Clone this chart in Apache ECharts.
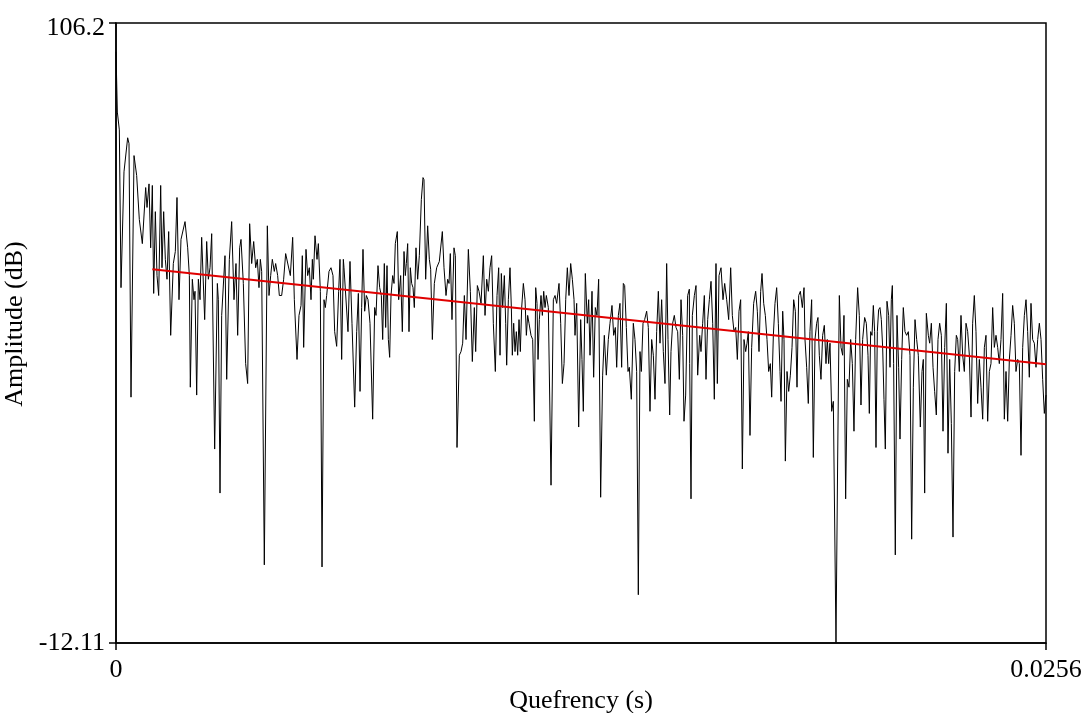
<!DOCTYPE html>
<html>
<head>
<meta charset="utf-8">
<script src="https://cdn.jsdelivr.net/npm/echarts@6/dist/echarts.min.js"></script>
<style>html,body{margin:0;padding:0;background:#fff}#c{width:1086px;height:713px}</style>
</head>
<body>
<div id="c"></div>
<script>
// Quefrency (ms) / amplitude (dB) pairs, in segments
const seg1 = [[0.0,100.7],[0.037,89.2],[0.092,85.8],[0.138,55.7],[0.220,77.8],[0.321,84.3],[0.358,83.2],[0.413,34.8],[0.496,80.9],[0.569,77.1],[0.642,68.7],[0.725,64.1],[0.817,74.8],[0.854,71.0],[0.909,75.5],[0.954,63.3],[1.000,75.2],[1.037,54.6],[1.083,70.2],[1.129,58.0],[1.175,54.2],[1.230,75.2],[1.266,59.5],[1.312,70.2],[1.358,61.1],[1.404,57.3],[1.450,66.4],[1.505,46.6],[1.578,60.3],[1.633,62.6],[1.679,72.9],[1.734,53.4],[1.789,64.9],[1.900,68.3],[1.973,63.3],[2.019,58.0],[2.046,36.7],[2.101,57.3],[2.147,53.4],[2.175,55.0],[2.221,35.2],[2.267,57.3],[2.313,53.4],[2.358,65.3],[2.441,49.6],[2.496,64.5],[2.542,57.3],[2.588,59.5],[2.634,66.0],[2.716,24.9],[2.790,56.5],[2.817,53.4],[2.863,16.5],[2.909,50.4],[2.955,50.4],[3.000,61.8],[3.047,38.2],[3.120,61.1]];
const seg2 = [[3.184,68.3],[3.248,53.4],[3.303,60.3],[3.349,46.6],[3.404,63.3],[3.441,64.9],[3.505,56.5],[3.569,41.2],[3.624,37.4],[3.679,67.9],[3.735,60.3],[3.790,64.5],[3.845,59.5],[3.890,61.1],[3.936,55.7],[3.973,61.1],[4.010,58.8],[4.083,2.8],[4.166,67.5],[4.212,54.2],[4.258,58.0],[4.303,61.1],[4.358,58.8],[4.395,60.3],[4.450,58.0],[4.496,54.2],[4.560,54.2],[4.615,57.3],[4.670,62.2],[4.725,62.2],[4.799,58.0],[4.863,65.3],[4.909,53.4],[4.983,42.0],[5.037,50.4],[5.093,52.3],[5.129,61.8],[5.166,44.3],[5.230,63.0],[5.276,58.0],[5.322,59.5],[5.368,53.4],[5.405,61.1],[5.432,57.3],[5.478,65.6],[5.533,61.1],[5.570,64.1],[5.625,55.0],[5.671,2.4],[5.726,53.4],[5.762,51.9],[5.799,54.2],[5.863,58.8],[5.918,59.5],[5.973,58.0],[6.019,47.3],[6.074,44.5],[6.129,55.0],[6.166,61.1],[6.212,42.0],[6.258,61.1]];
const seg3 = [[6.276,59.5],[6.331,59.2],[6.386,47.3],[6.441,60.7],[6.496,48.9],[6.570,32.9],[6.625,47.3],[6.671,54.6],[6.717,35.9],[6.762,51.9],[6.799,63.0],[6.845,51.2],[6.891,54.2],[6.937,53.4],[6.992,48.9],[7.065,30.6],[7.120,51.9],[7.157,50.4],[7.212,59.9],[7.258,55.7],[7.304,54.2],[7.341,45.8],[7.386,60.3],[7.423,48.1],[7.460,59.9],[7.497,45.8],[7.533,42.4],[7.570,54.2],[7.616,58.0],[7.653,56.5],[7.689,64.1],[7.744,66.4],[7.781,53.4],[7.836,58.0],[7.882,47.3],[7.928,62.6],[7.964,58.0],[7.992,60.3],[8.029,64.1],[8.065,47.3],[8.102,59.5],[8.139,56.5],[8.176,55.7],[8.212,51.9],[8.258,63.3],[8.304,57.3],[8.350,61.8],[8.405,72.5],[8.451,76.7],[8.478,76.3],[8.524,57.3],[8.579,67.5],[8.625,61.1],[8.662,59.2],[8.708,45.8],[8.763,56.5],[8.827,59.5],[8.900,60.7],[8.983,66.4],[9.029,59.5],[9.084,54.2],[9.130,57.3],[9.167,56.5],[9.203,62.2],[9.249,49.6],[9.304,63.3],[9.341,61.8],[9.387,25.2],[9.451,42.8]];
const seg4 = [[9.497,43.5],[9.543,45.1],[9.589,54.2],[9.635,45.8],[9.699,63.0],[9.754,55.0],[9.809,41.6],[9.864,51.9],[9.901,43.5],[9.947,56.1],[9.993,55.0],[10.048,52.7],[10.112,61.8],[10.158,50.4],[10.204,57.3],[10.250,55.0],[10.295,59.5],[10.341,61.8],[10.387,48.9],[10.442,39.7],[10.488,54.2],[10.534,59.5],[10.571,42.8],[10.607,58.4],[10.644,51.9],[10.690,58.0],[10.727,48.9],[10.754,40.9],[10.800,53.4],[10.846,59.5],[10.883,51.9],[10.910,42.8],[10.947,48.9],[10.984,43.5],[11.020,47.3],[11.057,42.8],[11.094,49.6],[11.130,43.5],[11.167,51.9],[11.213,56.5],[11.259,53.4],[11.296,46.6],[11.332,50.4],[11.369,48.9],[11.424,46.6],[11.470,45.8],[11.516,30.2],[11.553,55.7],[11.589,52.7],[11.617,42.0],[11.653,49.6],[11.699,54.2],[11.736,50.4],[11.773,55.0],[11.810,51.9],[11.846,54.2],[11.901,51.9],[11.975,18.0],[12.039,53.4],[12.085,54.2],[12.131,52.7],[12.195,56.5],[12.241,48.9],[12.287,37.4],[12.333,41.2],[12.379,53.4],[12.424,59.5],[12.470,54.2],[12.516,60.3],[12.562,57.3],[12.608,53.4]];
const seg5 = [[12.635,46.6],[12.681,52.7],[12.736,29.1],[12.791,49.6],[12.827,42.0],[12.864,32.1],[12.919,58.4],[12.974,48.9],[13.011,53.4],[13.048,42.8],[13.103,55.0],[13.148,38.6],[13.194,51.9],[13.240,50.4],[13.286,57.3],[13.341,15.7],[13.396,39.0],[13.442,46.6],[13.497,39.0],[13.552,45.8],[13.598,48.9],[13.653,52.3],[13.699,46.6],[13.745,48.1],[13.782,40.5],[13.828,50.4],[13.873,52.7],[13.919,40.5],[13.965,56.5],[14.002,56.1],[14.048,48.1],[14.094,39.7],[14.130,40.5],[14.185,34.4],[14.240,48.9],[14.286,45.8],[14.332,39.7],[14.378,-2.9],[14.424,43.5],[14.461,39.7],[14.507,48.9],[14.552,49.6],[14.607,51.2],[14.653,48.1],[14.699,32.1],[14.745,45.8],[14.791,42.8],[14.837,34.4],[14.883,47.3],[14.929,55.0],[14.975,45.1],[15.020,53.4],[15.066,43.5],[15.112,37.4],[15.158,60.3],[15.195,45.8],[15.241,31.4],[15.277,43.5],[15.323,48.9],[15.369,50.4],[15.415,48.1],[15.461,47.3],[15.507,38.2],[15.553,53.4],[15.599,46.6],[15.635,30.2],[15.681,35.2],[15.736,54.2],[15.782,55.4]];
const seg6 = [[15.791,41.2],[15.828,15.4],[15.865,50.4],[15.920,54.2],[15.966,56.1],[16.012,39.0],[16.067,46.6],[16.103,43.5],[16.149,48.9],[16.195,54.2],[16.241,38.2],[16.287,49.6],[16.333,53.4],[16.379,56.9],[16.425,48.9],[16.470,34.4],[16.516,60.3],[16.553,37.4],[16.599,58.0],[16.654,59.5],[16.709,53.4],[16.755,56.5],[16.810,53.4],[16.865,49.6],[16.920,59.5],[16.966,50.4],[17.012,47.3],[17.058,48.1],[17.104,42.0],[17.149,51.2],[17.195,53.4],[17.241,21.1],[17.287,45.8],[17.333,43.5],[17.370,45.1],[17.406,47.3],[17.452,27.5],[17.498,44.3],[17.553,52.7],[17.608,55.0],[17.654,51.2],[17.700,43.5],[17.746,55.0],[17.783,58.4],[17.829,52.7],[17.874,50.4],[17.920,45.8],[17.966,39.7],[18.012,41.2],[18.049,34.8],[18.095,46.6],[18.140,52.7],[18.186,55.7],[18.232,48.9],[18.278,39.7],[18.306,34.0],[18.352,51.2],[18.388,45.8],[18.425,22.6],[18.471,39.7],[18.517,35.9],[18.563,39.0],[18.609,44.3],[18.654,53.4],[18.700,51.2],[18.746,36.7],[18.792,54.2],[18.838,55.0],[18.893,51.9],[18.939,55.7]];
const seg7 = [[18.966,45.8],[19.012,40.5],[19.057,33.6],[19.103,47.3],[19.149,53.4],[19.195,23.3],[19.241,45.8],[19.287,48.9],[19.323,50.0],[19.360,42.8],[19.406,38.2],[19.452,46.6],[19.498,48.5],[19.544,41.2],[19.580,45.8],[19.617,41.2],[19.654,45.1],[19.700,32.1],[19.746,34.0],[19.782,34.0],[19.819,-12.0],[19.865,23.0],[19.911,54.2],[19.957,44.3],[20.003,42.8],[20.039,50.4],[20.085,15.4],[20.131,38.2],[20.177,36.7],[20.223,45.8],[20.269,41.2],[20.314,28.3],[20.360,45.8],[20.415,55.7],[20.461,50.4],[20.507,33.3],[20.553,45.8],[20.608,50.0],[20.654,48.9],[20.700,42.8],[20.737,31.7],[20.773,47.3],[20.810,46.6],[20.847,52.3],[20.883,47.3],[20.920,25.2],[20.957,47.3],[20.993,51.5],[21.030,51.9],[21.067,49.6],[21.104,44.3],[21.140,34.4],[21.177,24.9],[21.223,53.1],[21.269,50.4],[21.306,40.5],[21.342,53.4],[21.370,56.1],[21.406,41.2],[21.452,4.7],[21.498,50.4],[21.544,40.5],[21.581,26.8],[21.627,42.0],[21.672,51.9],[21.718,47.3],[21.764,46.6],[21.810,47.3],[21.856,42.8],[21.902,7.7],[21.948,36.7],[21.994,49.6],[22.040,45.8],[22.085,42.8]];
const seg8 = [[22.141,29.1],[22.187,39.7],[22.223,42.0],[22.260,16.5],[22.306,50.8],[22.361,46.6],[22.398,45.1],[22.444,48.9],[22.490,40.5],[22.535,35.9],[22.581,31.4],[22.627,45.8],[22.673,48.9],[22.719,46.6],[22.765,28.3],[22.811,44.3],[22.857,52.7],[22.902,24.1],[22.948,42.0],[22.994,29.8],[23.040,8.1],[23.086,39.7],[23.132,46.6],[23.169,45.8],[23.214,39.7],[23.260,50.4],[23.306,42.8],[23.352,39.7],[23.398,48.9],[23.444,47.3],[23.490,42.8],[23.536,31.0],[23.581,48.9],[23.627,54.2],[23.673,47.3],[23.719,33.6],[23.765,42.0],[23.811,36.7],[23.857,30.6],[23.903,44.3],[23.948,46.6],[23.994,30.2],[24.040,39.7],[24.086,41.2],[24.132,51.9],[24.178,44.3],[24.224,46.6],[24.270,44.3],[24.315,41.2],[24.361,45.8],[24.407,54.6],[24.453,30.6],[24.499,39.7],[24.545,30.2],[24.591,42.0],[24.637,46.6],[24.682,52.3],[24.728,48.9],[24.774,39.7],[24.820,42.0],[24.866,41.2],[24.912,23.7],[24.958,44.3],[25.004,50.4],[25.050,53.4],[25.095,47.3],[25.141,38.6],[25.187,52.7],[25.233,45.8],[25.279,45.1],[25.325,40.5],[25.371,45.8],[25.417,48.9],[25.463,45.8],[25.508,38.2],[25.554,31.7],[25.600,35.2]];

// Trend line (red)
const trendQuefrencyMs = [1.0, 25.6];
const trendAmplitudeDb = [59.2, 41.1];

// Axes
const xTickValues = [0, 0.0256];
const xTickLabels = ['0', '0.0256'];
const yTickValues = [-12.11, 106.2];
const yTickLabels = ['-12.11', '106.2'];
const xName = 'Quefrency (s)';
const yName = 'Amplitude (dB)';

const cepstrum = [].concat(seg1, seg2, seg3, seg4, seg5, seg6, seg7, seg8).map(p => [p[0] / 1000, p[1]]);
const trend = trendQuefrencyMs.map((q, i) => [q / 1000, trendAmplitudeDb[i]]);

const font = 'Liberation Serif, Times New Roman, serif';
const chart = echarts.init(document.getElementById('c'), null, {renderer: 'canvas'});
chart.setOption({
  animation: false,
  backgroundColor: '#fff',
  grid: {left: 116, top: 23, width: 930, height: 620, show: true, borderColor: '#000', borderWidth: 1.5, outerBoundsMode: 'none', containLabel: false},
  xAxis: {
    type: 'value', min: xTickValues[0], max: xTickValues[1],
    axisLine: {show: true, onZero: false, lineStyle: {color: '#000', width: 1.5}},
    axisTick: {show: true, length: 7, inside: false, customValues: xTickValues, lineStyle: {color: '#000', width: 1.5}},
    axisLabel: {customValues: xTickValues, showMinLabel: true, showMaxLabel: true, color: '#000', fontSize: 26, fontFamily: font, margin: 14,
      formatter: v => { const i = xTickValues.indexOf(v); return i >= 0 ? xTickLabels[i] : ''; }},
    splitLine: {show: false},
    name: xName, nameLocation: 'middle', nameGap: 37,
    nameTextStyle: {color: '#000', fontSize: 26, fontFamily: font}
  },
  yAxis: {
    type: 'value', min: yTickValues[0], max: yTickValues[1],
    axisLine: {show: true, onZero: false, lineStyle: {color: '#000', width: 1.5}},
    axisTick: {show: true, length: 7, inside: false, customValues: yTickValues, lineStyle: {color: '#000', width: 1.5}},
    axisLabel: {customValues: yTickValues, showMinLabel: true, showMaxLabel: true, color: '#000', fontSize: 26, fontFamily: font, margin: 11,
      formatter: v => { const i = yTickValues.indexOf(v); if (i < 0) return ''; return i === 1 ? '{top|' + yTickLabels[i] + '}' : yTickLabels[i]; },
      rich: {top: {fontSize: 26, fontFamily: font, color: '#000', padding: [10, 0, 0, 0]}}},
    splitLine: {show: false},
    name: yName, nameLocation: 'middle', nameGap: 76, nameRotate: 90,
    nameTextStyle: {color: '#000', fontSize: 26, fontFamily: font, padding: [0, 0, 0, 18]}
  },
  series: [
    {type: 'line', data: cepstrum, showSymbol: false, symbol: 'none', lineStyle: {color: '#000', width: 1}, clip: true, z: 2},
    {type: 'line', data: trend, showSymbol: false, symbol: 'none', lineStyle: {color: '#e00000', width: 2}, z: 3}
  ]
});
</script>
</body>
</html>
